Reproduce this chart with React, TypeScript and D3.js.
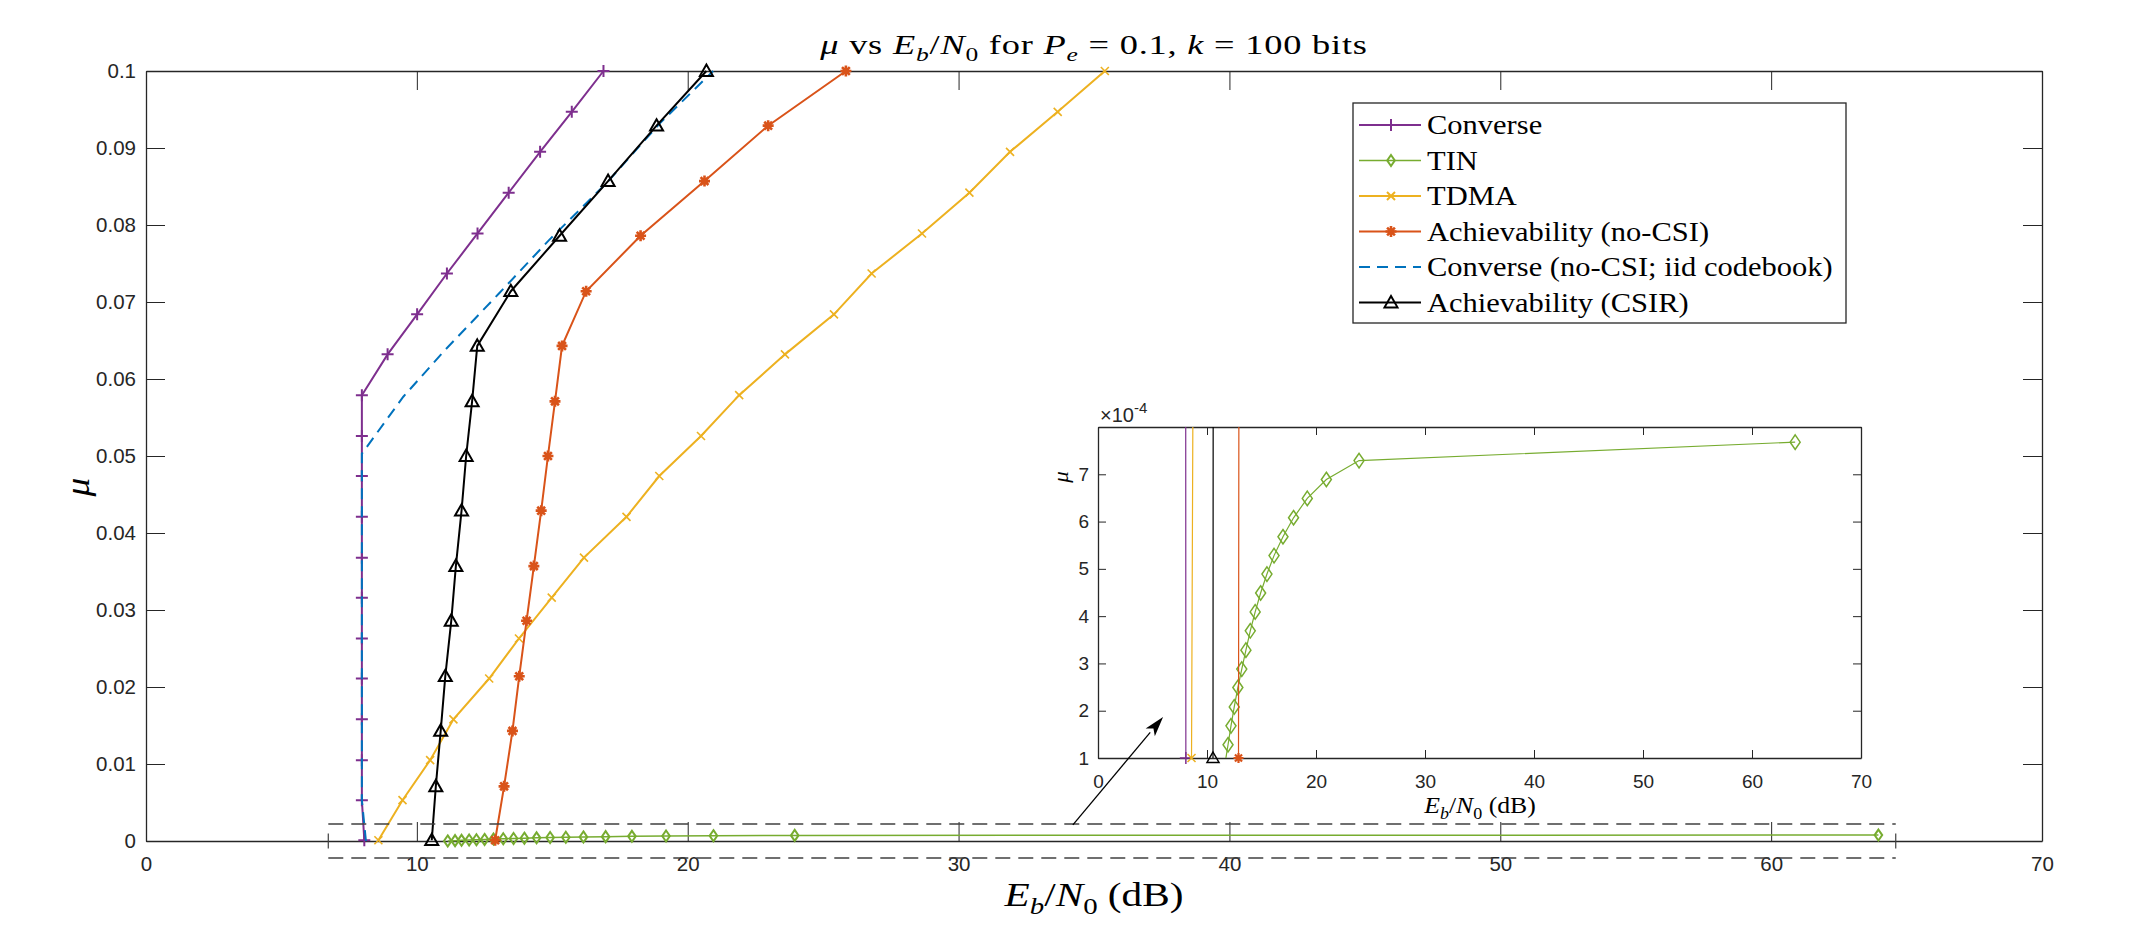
import * as d3 from 'd3';
import { useEffect, useRef } from 'react';

const WIDTH = 2136;
const HEIGHT = 946;

// axis ticks
const ebn0Ticks = [0, 10, 20, 30, 40, 50, 60, 70];
const muTicks = [0, 0.01, 0.02, 0.03, 0.04, 0.05, 0.06, 0.07, 0.08, 0.09, 0.1];
const muTickLabels = ['0', '0.01', '0.02', '0.03', '0.04', '0.05', '0.06', '0.07', '0.08', '0.09', '0.1'];
const insetMuTicks = [1e-4, 2e-4, 3e-4, 4e-4, 5e-4, 6e-4, 7e-4];
const insetMuTickLabels = ['1', '2', '3', '4', '5', '6', '7'];

// Converse
const converseEbN0 = [8.06, 7.97, 7.97, 7.97, 7.97, 7.97, 7.97, 7.97, 7.97, 7.97, 7.97, 7.97, 8.92, 10.01, 11.11, 12.24, 13.39, 14.55, 15.72, 16.89];
const converseMu = [0.0001, 0.0053, 0.0105, 0.0158, 0.0211, 0.0263, 0.0316, 0.0368, 0.0421, 0.0474, 0.0526, 0.0579, 0.0632, 0.0684, 0.0737, 0.0789, 0.0842, 0.0895, 0.0947, 0.1];

// TIN
const tinEbN0 = [11.14, 11.41, 11.65, 11.93, 12.2, 12.5, 12.83, 13.19, 13.57, 13.97, 14.42, 14.92, 15.5, 16.15, 16.97, 17.94, 19.2, 20.95, 23.95, 63.96];
const tinMu = [0.08e-4, 0.48e-4, 0.88e-4, 1.28e-4, 1.68e-4, 2.08e-4, 2.49e-4, 2.88e-4, 3.28e-4, 3.69e-4, 4.09e-4, 4.49e-4, 4.89e-4, 5.28e-4, 5.68e-4, 6.08e-4, 6.49e-4, 6.89e-4, 7.29e-4, 7.68e-4];

// TDMA
const tdmaEbN0 = [8.58, 9.47, 10.49, 11.35, 12.67, 13.77, 14.98, 16.17, 17.74, 18.95, 20.49, 21.9, 23.59, 25.4, 26.79, 28.65, 30.4, 31.9, 33.66, 35.4];
const tdmaMu = [0.0001, 0.0053, 0.0105, 0.0158, 0.0211, 0.0263, 0.0316, 0.0368, 0.0421, 0.0474, 0.0526, 0.0579, 0.0632, 0.0684, 0.0737, 0.0789, 0.0842, 0.0895, 0.0947, 0.1];

// Achievability (no-CSI)
const noCsiEbN0 = [12.89, 13.22, 13.53, 13.78, 14.05, 14.32, 14.59, 14.84, 15.1, 15.36, 16.25, 18.26, 20.62, 22.97, 25.84];
const noCsiMu = [0.0001, 0.0071, 0.0143, 0.0214, 0.0286, 0.0357, 0.0429, 0.05, 0.0571, 0.0643, 0.0714, 0.0786, 0.0857, 0.0929, 0.1];

// Converse (no-CSI; iid codebook)
const iidEbN0 = [8.12, 7.97, 7.97, 9.5, 11.05, 13.03, 14.87, 16.99, 18.97, 20.94];
const iidMu = [0, 0.0053, 0.0503, 0.0577, 0.0638, 0.0711, 0.078, 0.0854, 0.0932, 0.1];

// Achievability (CSIR)
const csirEbN0 = [10.55, 10.7, 10.88, 11.05, 11.27, 11.44, 11.65, 11.82, 12.04, 12.23, 13.47, 15.27, 17.06, 18.85, 20.69];
const csirMu = [0.0001, 0.0071, 0.0143, 0.0214, 0.0286, 0.0357, 0.0429, 0.05, 0.0571, 0.0643, 0.0714, 0.0786, 0.0857, 0.0929, 0.1];

// zoom box around μ = 0 and its arrow to the inset
const zoomBoxEbN0 = [6.73, 64.6];
const zoomBoxMu = [-0.0022, 0.0022];
const arrowFrom = [34.22, 0.0021];
const arrowTo = [37.55, 0.0161];

const AXIS_COLOR = '#262626';
const SANS = '"Liberation Sans", Arial, Helvetica, sans-serif';
const SERIF = '"Liberation Serif", "Times New Roman", serif';

type Seg = [string, string?];

interface Series {
  label: string;
  x: number[];
  y: number[];
  color: string;
  marker: string | null;
  dash?: string;
  width: number;
  inset: boolean;
}

const series: Series[] = [
  { label: 'Converse', x: converseEbN0, y: converseMu, color: '#7E2F8E', marker: 'plus', width: 2, inset: true },
  { label: 'TIN', x: tinEbN0, y: tinMu, color: '#77AC30', marker: 'diamond', width: 1.5, inset: true },
  { label: 'TDMA', x: tdmaEbN0, y: tdmaMu, color: '#EDB120', marker: 'cross', width: 2, inset: true },
  { label: 'Achievability (no-CSI)', x: noCsiEbN0, y: noCsiMu, color: '#D95319', marker: 'star', width: 2, inset: true },
  { label: 'Converse (no-CSI; iid codebook)', x: iidEbN0, y: iidMu, color: '#0072BD', marker: null, dash: '11 7', width: 2, inset: false },
  { label: 'Achievability (CSIR)', x: csirEbN0, y: csirMu, color: '#000000', marker: 'triangle', width: 2, inset: true }
];

const markerPath = (kind: string, s: number) => {
  switch (kind) {
    case 'plus':
      return `M${-s},0H${s}M0,${-s}V${s}`;
    case 'cross':
      return `M${-s},${-s}L${s},${s}M${-s},${s}L${s},${-s}`;
    case 'star': {
      const d = s * 0.71;
      return `M${-s},0H${s}M0,${-s}V${s}M${-d},${-d}L${d},${d}M${-d},${d}L${d},${-d}`;
    }
    case 'triangle':
      return `M0,${-s}L${s},${s * 0.75}L${-s},${s * 0.75}Z`;
    case 'diamond':
      return `M0,${-s * 1.45}L${s},0L0,${s * 1.45}L${-s},0Z`;
    default:
      return '';
  }
};

const markerSize: Record<string, number> = { plus: 6, cross: 4, star: 5.5, triangle: 6.5, diamond: 3.8 };
const insetMarkerSize: Record<string, number> = { plus: 6, cross: 4, star: 5, triangle: 6, diamond: 5 };

type Sel = d3.Selection<any, unknown, null, undefined>;

// LaTeX-like label built from tspans (italic / subscript / superscript pieces)
const addTex = (
  parent: Sel,
  segs: Seg[],
  x: number,
  y: number,
  size: number,
  anchor: string,
  sx: number,
  rotate = 0,
  spacing = 0
) => {
  const g = parent
    .append('g')
    .attr('transform', `translate(${x},${y}) rotate(${rotate}) scale(${sx},1)`);
  const t = g
    .append('text')
    .attr('text-anchor', anchor)
    .attr('font-family', SERIF)
    .attr('font-size', size)
    .attr('letter-spacing', spacing)
    .attr('fill', '#000')
    .style('white-space', 'pre');
  let shift = 0;
  segs.forEach(([s, f = '']) => {
    const target = f.includes('sub') ? size * 0.25 : f.includes('sup') ? -size * 0.4 : 0;
    t.append('tspan')
      .attr('dy', target - shift)
      .attr('font-style', f.startsWith('i') ? 'italic' : 'normal')
      .attr('font-size', target !== 0 ? size * 0.7 : size)
      .text(s);
    shift = target;
  });
  return t;
};

const styleAxis = (g: Sel, size: number, tickWidth = 1) => {
  g.attr('font-family', SANS).attr('font-size', size);
  g.select('.domain').attr('stroke', AXIS_COLOR).attr('stroke-width', 1.3);
  g.selectAll('.tick line').attr('stroke', AXIS_COLOR).attr('stroke-width', tickWidth);
  g.selectAll('.tick text').attr('fill', AXIS_COLOR);
};

export default function App() {
  const svgRef = useRef<SVGSVGElement>(null);

  useEffect(() => {
    if (!svgRef.current) return;
    const svg = d3.select(svgRef.current);
    svg.selectAll('*').remove();

    svg.append('rect').attr('width', WIDTH).attr('height', HEIGHT).attr('fill', '#fff');

    // ---------- main axes ----------
    const x = d3.scaleLinear().domain([0, 70]).range([146, 2042]);
    const y = d3.scaleLinear().domain([0, 0.1]).range([841, 71]);

    svg
      .append('g')
      .attr('transform', `translate(0,${y(0)})`)
      .call(d3.axisBottom(x).tickValues(ebn0Ticks).tickSizeInner(-19).tickSizeOuter(0).tickPadding(15))
      .call((g) => styleAxis(g, 20.5));
    svg
      .append('g')
      .attr('transform', `translate(0,${y(0.1)})`)
      .call(d3.axisTop(x).tickValues(ebn0Ticks).tickSizeInner(-19).tickSizeOuter(0).tickFormat(() => ''))
      .call((g) => styleAxis(g, 20.5));
    svg
      .append('g')
      .attr('transform', `translate(${x(0)},0)`)
      .call(
        d3
          .axisLeft(y)
          .tickValues(muTicks)
          .tickSizeInner(-19)
          .tickSizeOuter(0)
          .tickPadding(10)
          .tickFormat((_, i) => muTickLabels[i])
      )
      .call((g) => styleAxis(g, 20.5));
    svg
      .append('g')
      .attr('transform', `translate(${x(70)},0)`)
      .call(d3.axisRight(y).tickValues(muTicks).tickSizeInner(-19).tickSizeOuter(0).tickFormat(() => ''))
      .call((g) => styleAxis(g, 20.5));

    // title and axis labels
    addTex(
      svg,
      [['μ', 'i'], [' vs '], ['E', 'i'], ['b', 'isub'], ['/'], ['N', 'i'], ['0', 'sub'], [' for '], ['P', 'i'], ['e', 'isub'], [' = 0.1, '], ['k', 'i'], [' = 100 bits']],
      1094,
      54,
      28,
      'middle',
      1.3,
      0,
      0.6
    );
    addTex(svg, [['E', 'i'], ['b', 'isub'], ['/'], ['N', 'i'], ['0', 'sub'], [' (dB)']], 1094, 906, 33, 'middle', 1.25);
    addTex(svg, [['μ', 'i']], 89, 487, 34, 'middle', 1.1, -90);

    // ---------- data ----------
    series.forEach((s) => {
      const pts = s.x.map((v, i) => [v, s.y[i]] as [number, number]);
      const line = d3
        .line<[number, number]>()
        .x((d) => x(d[0]))
        .y((d) => y(d[1]));
      svg
        .append('path')
        .attr('d', line(pts))
        .attr('fill', 'none')
        .attr('stroke', s.color)
        .attr('stroke-width', s.width)
        .attr('stroke-dasharray', s.dash ?? null);
      if (s.marker) {
        svg
          .append('g')
          .selectAll('path')
          .data(pts)
          .enter()
          .append('path')
          .attr('transform', (d) => `translate(${x(d[0])},${y(d[1])})`)
          .attr('d', markerPath(s.marker, markerSize[s.marker]))
          .attr('fill', 'none')
          .attr('stroke', s.color)
          .attr('stroke-width', s.marker === 'star' ? 2.6 : s.marker === 'cross' ? 1.6 : 2);
      }
    });

    // dashed zoom box around μ ≈ 0
    const boxG = svg.append('g').attr('stroke', '#404040').attr('stroke-width', 1.6).attr('fill', 'none');
    [zoomBoxMu[0], zoomBoxMu[1]].forEach((m) => {
      boxG
        .append('line')
        .attr('x1', x(zoomBoxEbN0[0]))
        .attr('x2', x(zoomBoxEbN0[1]))
        .attr('y1', y(m))
        .attr('y2', y(m))
        .attr('stroke-dasharray', '15 8');
    });
    [zoomBoxEbN0[0], zoomBoxEbN0[1]].forEach((v) => {
      const side = y(zoomBoxMu[0]) - y(zoomBoxMu[1]);
      boxG
        .append('line')
        .attr('x1', x(v))
        .attr('x2', x(v))
        .attr('y1', y(zoomBoxMu[1]))
        .attr('y2', y(zoomBoxMu[0]))
        .attr('stroke-width', 1.2)
        .attr('stroke-dasharray', `15 ${side}`)
        .attr('stroke-dashoffset', -(side - 15) / 2);
    });

    // ---------- legend ----------
    const legend = svg.append('g');
    legend
      .append('rect')
      .attr('x', 1353)
      .attr('y', 103)
      .attr('width', 493)
      .attr('height', 220)
      .attr('fill', '#fff')
      .attr('stroke', AXIS_COLOR)
      .attr('stroke-width', 1.3);
    series.forEach((s, i) => {
      const cy = 125 + i * 35.5;
      legend
        .append('line')
        .attr('x1', 1359)
        .attr('x2', 1421)
        .attr('y1', cy)
        .attr('y2', cy)
        .attr('stroke', s.color)
        .attr('stroke-width', s.width)
        .attr('stroke-dasharray', s.dash ?? null);
      if (s.marker) {
        legend
          .append('path')
          .attr('transform', `translate(1391,${cy})`)
          .attr('d', markerPath(s.marker, markerSize[s.marker]))
          .attr('fill', 'none')
          .attr('stroke', s.color)
          .attr('stroke-width', s.marker === 'star' ? 2.6 : 2);
      }
      addTex(legend, [[s.label]], 1427, cy + 9, 27, 'start', 1.13);
    });

    // ---------- inset ----------
    const ix = d3.scaleLinear().domain([0, 70]).range([1098, 1861]);
    const iy = d3.scaleLinear().domain([1e-4, 8e-4]).range([758, 427]);
    const inset = svg.append('g');
    inset
      .append('rect')
      .attr('x', ix(0))
      .attr('y', iy(8e-4))
      .attr('width', ix(70) - ix(0))
      .attr('height', iy(1e-4) - iy(8e-4))
      .attr('fill', '#fff');

    inset
      .append('g')
      .attr('transform', `translate(0,${iy(1e-4)})`)
      .call(d3.axisBottom(ix).tickValues(ebn0Ticks).tickSizeInner(-8).tickSizeOuter(0).tickPadding(17))
      .call((g) => styleAxis(g, 19));
    inset
      .append('g')
      .attr('transform', `translate(0,${iy(8e-4)})`)
      .call(d3.axisTop(ix).tickValues(ebn0Ticks).tickSizeInner(-8).tickSizeOuter(0).tickFormat(() => ''))
      .call((g) => styleAxis(g, 19));
    inset
      .append('g')
      .attr('transform', `translate(${ix(0)},0)`)
      .call(
        d3
          .axisLeft(iy)
          .tickValues(insetMuTicks)
          .tickSizeInner(-8)
          .tickSizeOuter(0)
          .tickPadding(9)
          .tickFormat((_, i) => insetMuTickLabels[i])
      )
      .call((g) => styleAxis(g, 19));
    inset
      .append('g')
      .attr('transform', `translate(${ix(70)},0)`)
      .call(d3.axisRight(iy).tickValues(insetMuTicks).tickSizeInner(-8).tickSizeOuter(0).tickFormat(() => ''))
      .call((g) => styleAxis(g, 19));

    const exp = inset
      .append('text')
      .attr('x', 1100)
      .attr('y', 422)
      .attr('font-family', SANS)
      .attr('font-size', 20)
      .attr('fill', AXIS_COLOR);
    exp.append('tspan').text('×10');
    exp.append('tspan').attr('dy', -9).attr('font-size', 15).text('-4');

    addTex(inset, [['E', 'i'], ['b', 'isub'], ['/'], ['N', 'i'], ['0', 'sub'], [' (dB)']], 1480, 813, 23, 'middle', 1.12);
    addTex(inset, [['μ', 'i']], 1068, 477, 22, 'middle', 1.05, -90);

    svg
      .append('clipPath')
      .attr('id', 'inset-clip')
      .append('rect')
      .attr('x', ix(0))
      .attr('y', iy(8e-4))
      .attr('width', ix(70) - ix(0))
      .attr('height', iy(1e-4) - iy(8e-4));

    series
      .filter((s) => s.inset)
      .forEach((s) => {
        const pts = s.x.map((v, i) => [v, s.y[i]] as [number, number]);
        const line = d3
          .line<[number, number]>()
          .x((d) => ix(d[0]))
          .y((d) => iy(d[1]));
        inset
          .append('path')
          .attr('clip-path', 'url(#inset-clip)')
          .attr('d', line(pts))
          .attr('fill', 'none')
          .attr('stroke', s.color)
          .attr('stroke-width', 1.2);
        const visible = pts.filter((d) => d[1] >= 0.99e-4 && d[1] <= 8e-4);
        inset
          .append('g')
          .selectAll('path')
          .data(visible)
          .enter()
          .append('path')
          .attr('transform', (d) => `translate(${ix(d[0])},${iy(d[1])})`)
          .attr('d', markerPath(s.marker!, insetMarkerSize[s.marker!]))
          .attr('fill', 'none')
          .attr('stroke', s.color)
          .attr('stroke-width', s.marker === 'star' ? 2.2 : 1.5);
      });

    // arrow from the zoom box to the inset
    const [ax0, ay0] = [x(arrowFrom[0]), y(arrowFrom[1])];
    const [ax1, ay1] = [x(arrowTo[0]), y(arrowTo[1])];
    const len = Math.hypot(ax1 - ax0, ay1 - ay0);
    const ux = (ax1 - ax0) / len;
    const uy = (ay1 - ay0) / len;
    const headLen = 20;
    const headHalf = 6;
    const bx = ax1 - ux * headLen;
    const by = ay1 - uy * headLen;
    svg
      .append('line')
      .attr('x1', ax0)
      .attr('y1', ay0)
      .attr('x2', bx)
      .attr('y2', by)
      .attr('stroke', '#000')
      .attr('stroke-width', 1.3);
    svg
      .append('path')
      .attr(
        'd',
        `M${ax1},${ay1}L${bx - uy * headHalf},${by + ux * headHalf}L${bx + ux * 5},${by + uy * 5}L${bx + uy * headHalf},${by - ux * headHalf}Z`
      )
      .attr('fill', '#000');
  }, []);

  return (
    <svg
      ref={svgRef}
      width={WIDTH}
      height={HEIGHT}
      style={{ position: 'absolute', left: 0, top: 0, display: 'block' }}
    />
  );
}
